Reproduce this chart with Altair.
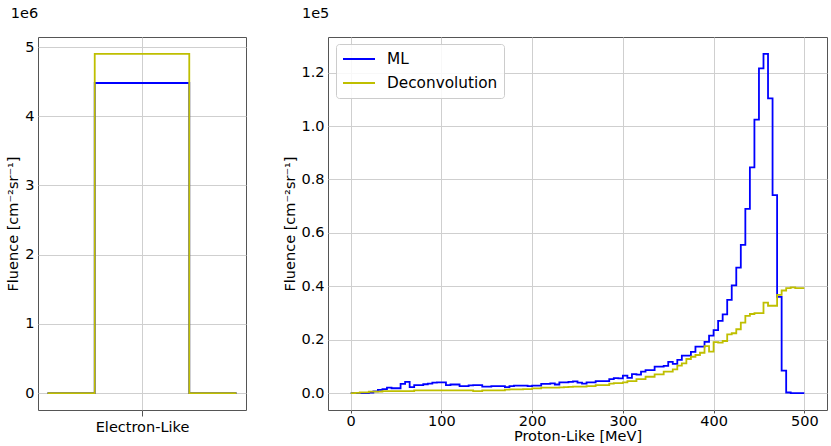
import altair as alt
import numpy as np
import pandas as pd

# Electron-like channel: a single wide bin (step edges and fluence, units of 1e6)
electron_edges = [0, 1, 3, 4]
electron_ml = [0.0, 4.48, 0.0, 0.0]
electron_deconv = [0.0, 4.90, 0.0, 0.0]

# Proton-like spectrum: 5 MeV bins from 0 to 500 MeV (fluence, units of 1e5)
proton_edges = list(np.arange(0, 505, 5))
proton_ml = [
    0.0, 0.0, 0.0, 0.0, 0.002, 0.006, 0.012, 0.015, 0.020, 0.018,
    0.018, 0.034, 0.042, 0.022, 0.030, 0.030, 0.033, 0.035, 0.039, 0.040,
    0.040, 0.030, 0.032, 0.032, 0.026, 0.026, 0.029, 0.030, 0.030, 0.024,
    0.024, 0.026, 0.026, 0.026, 0.022, 0.026, 0.028, 0.028, 0.028, 0.026,
    0.028, 0.028, 0.034, 0.034, 0.036, 0.032, 0.040, 0.040, 0.042, 0.044,
    0.039, 0.035, 0.040, 0.040, 0.045, 0.045, 0.045, 0.052, 0.056, 0.055,
    0.065, 0.057, 0.071, 0.069, 0.080, 0.086, 0.086, 0.099, 0.099, 0.102,
    0.117, 0.109, 0.124, 0.140, 0.140, 0.154, 0.174, 0.174, 0.192, 0.215,
    0.236, 0.270, 0.295, 0.349, 0.403, 0.470, 0.555, 0.690, 0.845, 1.024,
    1.216, 1.270, 1.104, 0.741, 0.360, 0.084, 0.002, 0.0, 0.0, 0.0,
]
proton_deconv = [
    0.0, 0.001, 0.0025, 0.0025, 0.005, 0.005, 0.005, 0.0075, 0.0075, 0.0075,
    0.0075, 0.0075, 0.0075, 0.0075, 0.010, 0.010, 0.010, 0.010, 0.010, 0.010,
    0.010, 0.010, 0.010, 0.010, 0.010, 0.010, 0.010, 0.0075, 0.0075, 0.010,
    0.010, 0.010, 0.010, 0.010, 0.0125, 0.014, 0.014, 0.014, 0.015, 0.015,
    0.0175, 0.0175, 0.020, 0.020, 0.020, 0.020, 0.021, 0.022, 0.023, 0.024,
    0.024, 0.024, 0.026, 0.026, 0.030, 0.030, 0.030, 0.035, 0.0375, 0.0375,
    0.040, 0.045, 0.045, 0.0525, 0.0525, 0.061, 0.061, 0.070, 0.070, 0.080,
    0.080, 0.089, 0.1025, 0.111, 0.1275, 0.136, 0.1425, 0.151, 0.176, 0.155,
    0.191, 0.189, 0.195, 0.220, 0.224, 0.239, 0.264, 0.289, 0.296, 0.299,
    0.299, 0.339, 0.327, 0.327, 0.3675, 0.384, 0.393, 0.396, 0.393, 0.393,
]

series_names = ["ML", "Deconvolution"]
series_colors = ["#0000ff", "#bfbf00"]

FONT = "DejaVu Sans"
FS = 14.5
Y_TITLE = "Fluence [cm⁻²sr⁻¹]"
LINE_W = 1.8


def step_frame(edges, values, name):
    # repeat the last value so the final bin gets its closing step
    vals = list(values)
    if len(vals) == len(edges) - 1:
        vals = vals + [vals[-1]]
    return pd.DataFrame({"x": edges, "y": vals, "series": name})


def offset_title(text, dx):
    return alt.TitleParams(text, anchor="start", frame="bounds", fontSize=FS,
                           fontWeight="normal", font=FONT, offset=16, dx=dx)


# ---------------- left panel ----------------
e_ml = step_frame(electron_edges, electron_ml, "ML")
e_dc = step_frame(electron_edges, electron_deconv, "Deconvolution")

ex = alt.X(
    "x:Q",
    scale=alt.Scale(domain=[-0.2, 4.2], nice=False, zero=False),
    axis=alt.Axis(values=[2], labels=False, title="Electron-Like",
                  tickSize=6, titlePadding=4),
)
ey = alt.Y(
    "y:Q",
    scale=alt.Scale(domain=[-0.245, 5.145], nice=False, zero=False),
    axis=alt.Axis(values=[0, 1, 2, 3, 4, 5], format="d", title=Y_TITLE,
                  ticks=False, labelPadding=4, titlePadding=4),
)

left = (
    alt.layer(
        alt.Chart(e_ml).mark_line(interpolate="step-after", strokeWidth=LINE_W,
                                  color=series_colors[0]).encode(x=ex, y=ey),
        alt.Chart(e_dc).mark_line(interpolate="step-after", strokeWidth=LINE_W,
                                  color=series_colors[1]).encode(x=ex, y=ey),
    )
    .properties(width=208, height=373, title=offset_title("1e6", 5))
)

# ---------------- right panel ----------------
p_ml = step_frame(proton_edges, proton_ml, "ML")
p_dc = step_frame(proton_edges, proton_deconv, "Deconvolution")

px = alt.X(
    "x:Q",
    scale=alt.Scale(domain=[-25, 525], nice=False, zero=False),
    axis=alt.Axis(values=[0, 100, 200, 300, 400, 500], format="d",
                  title="Proton-Like [MeV]", tickSize=3, labelPadding=1,
                  titlePadding=2),
)
py = alt.Y(
    "y:Q",
    scale=alt.Scale(domain=[-0.0635, 1.3335], nice=False, zero=False),
    axis=alt.Axis(values=[0, 0.2, 0.4, 0.6, 0.8, 1.0, 1.2], format=".1f",
                  title=Y_TITLE, ticks=False, labelPadding=4, titlePadding=3),
)

color_scale = alt.Scale(domain=series_names, range=series_colors)
# legend symbol: a short horizontal line sample reaching to the right
legend = alt.Legend(
    title=None,
    orient="none",
    legendX=298,
    legendY=7,
    symbolType="M-1,0H3",
    symbolSize=256,
    symbolStrokeWidth=2,
    symbolFillColor="transparent",
    labelFontSize=15.3,
    labelFont=FONT,
    labelColor="#000000",
    labelOffset=27,
    rowPadding=6,
    padding=6,
    fillColor="rgba(255,255,255,0.85)",
    strokeColor="#cccccc",
    cornerRadius=3,
)
color = alt.Color("series:N", scale=color_scale, legend=legend)

right = (
    alt.layer(
        alt.Chart(p_ml).mark_line(interpolate="step-after", strokeWidth=LINE_W)
        .encode(x=px, y=py, color=color),
        alt.Chart(p_dc).mark_line(interpolate="step-after", strokeWidth=LINE_W)
        .encode(x=px, y=py, color=color),
    )
    .properties(width=499, height=373, title=offset_title("1e5", 19))
)

chart = (
    alt.hconcat(left, right, spacing=35)
    .properties(padding={"left": 5, "top": 5, "right": 0, "bottom": 0})
    .configure(font=FONT)
    .configure_view(stroke="#555555", strokeWidth=1)
    .configure_axis(
        labelFont=FONT,
        titleFont=FONT,
        labelFontSize=FS,
        titleFontSize=FS,
        titleFontWeight="normal",
        labelColor="#000000",
        titleColor="#000000",
        domain=False,
        grid=True,
        gridColor="#cfcfcf",
        gridWidth=1,
        tickColor="#555555",
    )
    .configure_title(color="#000000", baseline="top")
)

chart.save("out.html", embed_options={"renderer": "svg", "actions": False})
